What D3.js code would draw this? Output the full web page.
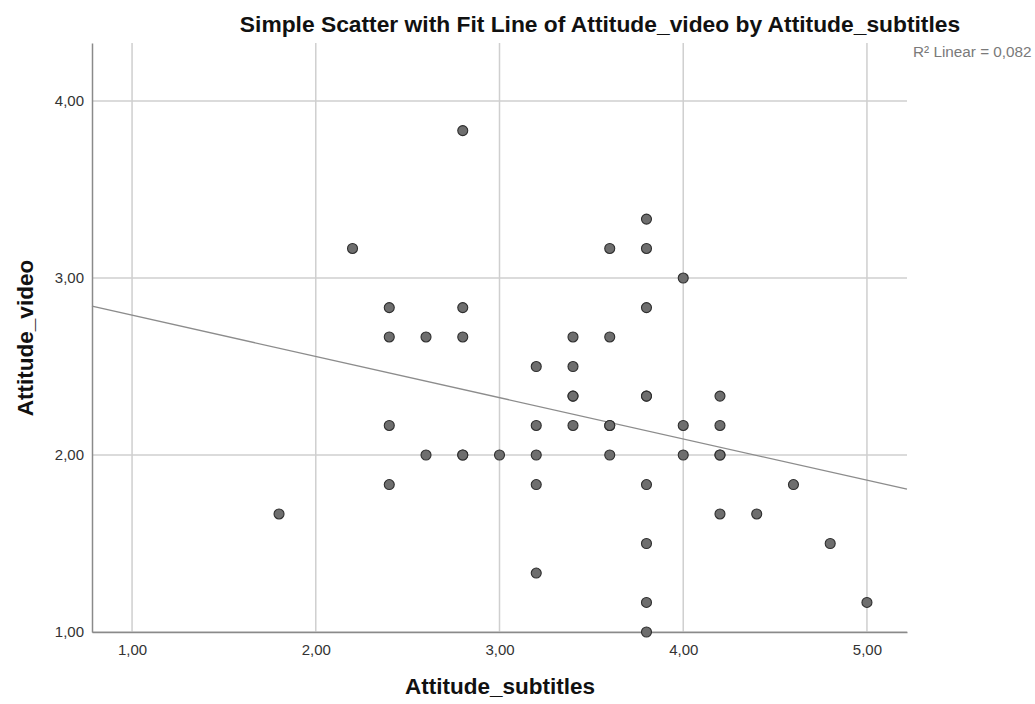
<!DOCTYPE html>
<html>
<head>
<meta charset="utf-8">
<script src="https://cdn.jsdelivr.net/npm/d3@7"></script>
<style>
  html, body { margin: 0; padding: 0; background: #fff; }
  svg { display: block; font-family: "Liberation Sans", Arial, sans-serif; }
</style>
</head>
<body>
<svg id="chart" width="1035" height="704"></svg>
<script>
// ---- Data ----
const subtitles = [1.8, 2.2, 2.4, 2.4, 2.4, 2.4, 2.6, 2.6, 2.8, 2.8, 2.8, 2.8, 2.8,
  3.0, 3.2, 3.2, 3.2, 3.2, 3.2, 3.4, 3.4, 3.4, 3.4, 3.4,
  3.6, 3.6, 3.6, 3.6, 3.6, 3.8, 3.8, 3.8, 3.8, 3.8, 3.8, 3.8, 3.8, 3.8,
  4.0, 4.0, 4.0, 4.2, 4.2, 4.2, 4.2, 4.2, 4.4, 4.6, 4.8, 5.0];
const video = [1.667, 3.167, 2.833, 2.667, 2.167, 1.833, 2.667, 2.0, 3.833, 2.833, 2.667, 2.0, 2.0,
  2.0, 2.5, 2.167, 2.0, 1.833, 1.333, 2.667, 2.5, 2.333, 2.333, 2.167,
  3.167, 2.667, 2.167, 2.167, 2.0, 3.333, 3.167, 2.833, 2.333, 2.333, 1.833, 1.5, 1.167, 1.0,
  3.0, 2.167, 2.0, 2.333, 2.167, 2.0, 2.0, 1.667, 1.667, 1.833, 1.5, 1.167];
const fitIntercept = 3.023;
const fitSlope = -0.233;
const xTicks = [1, 2, 3, 4, 5];
const yTicks = [1, 2, 3, 4];
const titleText = "Simple Scatter with Fit Line of Attitude_video by Attitude_subtitles";
const xTitle = "Attitude_subtitles";
const yTitle = "Attitude_video";
const r2Label = "R\u00B2 Linear = 0,082";

// ---- Layout ----
const svg = d3.select("#chart");
const pL = 92, pR = 907, pT = 43, pB = 632;
const x = d3.scaleLinear().domain([0.782, 5.218]).range([pL, pR]);
const y = d3.scaleLinear().domain([1, 4.328]).range([pB, pT]);
const fmt = v => d3.format(".2f")(v).replace(".", ",");

// gridlines
svg.append("g").selectAll("line").data(xTicks).join("line")
  .attr("x1", d => x(d)).attr("x2", d => x(d))
  .attr("y1", pT).attr("y2", pB)
  .attr("stroke", "#cfcfcf").attr("stroke-width", 1.5);
svg.append("g").selectAll("line").data(yTicks).join("line")
  .attr("x1", pL).attr("x2", pR)
  .attr("y1", d => y(d)).attr("y2", d => y(d))
  .attr("stroke", "#cfcfcf").attr("stroke-width", 1.5);

// axes
const xAxis = d3.axisBottom(x).tickValues(xTicks).tickFormat(fmt).tickSize(0).tickPadding(18);
const gx = svg.append("g").attr("transform", `translate(0,${pB})`).call(xAxis);
gx.select(".domain").attr("stroke", "#8a8a8a").attr("stroke-width", 1.5);
gx.selectAll("text").attr("font-size", 15).attr("fill", "#333")
  .attr("font-family", "Liberation Sans, Arial, sans-serif").attr("dy", "0").attr("y", 23);

const yAxis = d3.axisLeft(y).tickValues(yTicks).tickFormat(fmt).tickSize(0).tickPadding(8);
const gy = svg.append("g").attr("transform", `translate(${pL},0)`).call(yAxis);
gy.select(".domain").attr("stroke", "#8a8a8a").attr("stroke-width", 1.5);
gy.selectAll("text").attr("font-size", 15).attr("fill", "#333")
  .attr("font-family", "Liberation Sans, Arial, sans-serif");

// fit line
const [x0, x1] = x.domain();
svg.append("line")
  .attr("x1", x(x0)).attr("y1", y(fitIntercept + fitSlope * x0))
  .attr("x2", x(x1)).attr("y2", y(fitIntercept + fitSlope * x1))
  .attr("stroke", "#8c8c8c").attr("stroke-width", 1.3);

// points
const pts = subtitles.map((s, i) => ({ s, v: video[i] }));
svg.append("g").selectAll("circle").data(pts).join("circle")
  .attr("cx", d => x(d.s)).attr("cy", d => y(d.v)).attr("r", 5)
  .attr("fill", "#6e6e6e").attr("stroke", "#2e2e2e").attr("stroke-width", 1.1);

// titles
svg.append("text").attr("x", 600).attr("y", 32).attr("text-anchor", "middle")
  .attr("font-size", 22.8).attr("font-weight", "bold").attr("fill", "#111").text(titleText);
svg.append("text").attr("x", 500).attr("y", 694).attr("text-anchor", "middle")
  .attr("font-size", 22.5).attr("font-weight", "bold").attr("fill", "#111").text(xTitle);
svg.append("text").attr("transform", "translate(33,338) rotate(-90)").attr("text-anchor", "middle")
  .attr("font-size", 22.5).attr("font-weight", "bold").attr("fill", "#111").text(yTitle);
svg.append("text").attr("x", 913).attr("y", 57)
  .attr("font-size", 15.3).attr("fill", "#7a7a7a").text(r2Label);
</script>
</body>
</html>
